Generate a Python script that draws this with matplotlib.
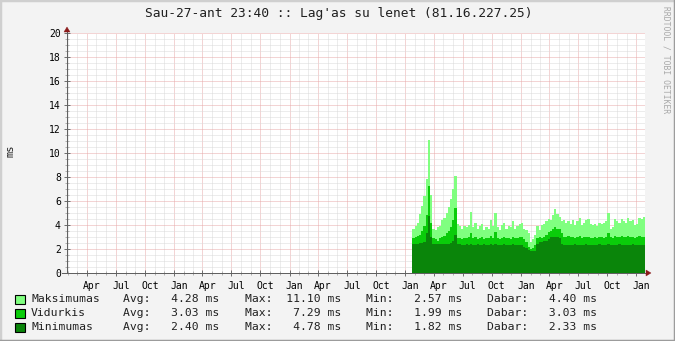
import numpy as np
import matplotlib
matplotlib.use("Agg")
import matplotlib.pyplot as plt
import matplotlib.dates as mdates
import matplotlib.ticker as mticker
from matplotlib.patches import Rectangle, Polygon
from matplotlib.lines import Line2D
from matplotlib.transforms import ScaledTranslation
import datetime as dt

# ---------------- data ----------------
title = "Sau-27-ant 23:40 :: Lag'as su lenet (81.16.227.25)"
y_label = "ms"
watermark = "RRDTOOL / TOBI OETIKER"
range_start = dt.datetime(2005, 1, 27, 23, 40)
range_end = dt.datetime(2010, 1, 27, 23, 40)
data_start = dt.datetime(2008, 1, 24)
step_days = 7

series_names = ["Maksimumas", "Vidurkis", "Minimumas"]
series_colors = ["#80FF80", "#0ACC0A", "#0A850A"]

max_vals = [3.7, 3.9, 4.2, 4.9, 5.6, 6.4, 7.8, 11.1, 6.5, 3.7,
            3.6, 3.8, 3.9, 4.4, 4.6, 5.0, 5.5, 6.2, 7.0, 8.05, 4.1,
            3.9, 3.7, 3.9, 3.8, 4.0, 5.1, 3.8, 4.2, 3.7, 3.9,
            4.1, 3.6, 3.8, 3.7, 4.4, 3.9, 5.0, 3.8, 3.6, 4.0,
            4.2, 3.7, 3.9, 3.8, 4.3, 3.7, 3.9, 4.1, 4.2, 3.7,
            3.6, 3.3, 2.6, 2.8, 3.2, 3.9, 3.6, 4.0, 4.1, 4.3,
            4.5, 4.4, 4.8, 5.3, 4.9, 4.7, 4.3, 4.4, 4.2, 4.3,
            4.1, 4.4, 4.0, 4.3, 4.6, 4.0, 4.2, 4.4, 4.5, 4.1,
            4.0, 4.1, 3.9, 4.2, 4.1, 4.2, 4.3, 5.0, 3.7, 3.8,
            4.5, 4.3, 4.2, 4.5, 4.3, 4.2, 4.6, 4.3, 4.4, 4.0,
            4.1, 4.6, 4.5, 4.7, 4.5]

avg_vals = [2.9, 3.0, 3.1, 3.2, 3.5, 3.9, 4.8, 7.29, 4.2, 2.9,
            2.8, 2.7, 2.9, 3.0, 3.1, 3.3, 3.5, 3.8, 4.4, 5.4, 2.9,
            2.9, 2.8, 2.9, 2.9, 3.0, 3.3, 2.9, 3.0, 2.8, 2.9,
            3.0, 2.8, 2.9, 2.9, 3.1, 2.9, 3.4, 2.9, 2.8, 2.9,
            3.0, 2.9, 2.9, 2.8, 3.0, 2.9, 2.9, 3.0, 3.0, 2.8,
            2.6, 2.2, 2.0, 2.1, 2.3, 2.9, 3.0, 2.9, 3.0, 3.2,
            3.4, 3.5, 3.7, 3.8, 3.7, 3.7, 3.3, 3.0, 3.0, 3.1,
            3.0, 3.0, 2.9, 3.0, 3.1, 2.9, 3.0, 3.0, 3.0, 2.9,
            2.9, 3.0, 2.9, 3.0, 3.0, 2.9, 3.0, 3.3, 3.0, 2.9,
            3.1, 3.0, 3.0, 3.1, 3.0, 3.0, 3.1, 3.0, 3.0, 2.9,
            3.0, 3.1, 3.0, 3.0, 3.0]

min_vals = [2.4, 2.4, 2.4, 2.5, 2.5, 2.6, 3.3, 4.78, 3.0, 2.4,
            2.4, 2.4, 2.4, 2.4, 2.4, 2.4, 2.4, 2.5, 2.7, 3.2, 2.4,
            2.4, 2.35, 2.35, 2.4, 2.35, 2.4, 2.35, 2.35, 2.4, 2.35,
            2.35, 2.4, 2.35, 2.35, 2.4, 2.35, 2.4, 2.35, 2.35, 2.35,
            2.4, 2.35, 2.35, 2.35, 2.4, 2.35, 2.35, 2.3, 2.3, 2.2,
            2.1, 1.9, 1.82, 1.85, 1.85, 2.4, 2.6, 2.6, 2.7, 2.7,
            2.8, 3.0, 3.0, 3.0, 3.0, 2.9, 2.4, 2.35, 2.35, 2.35,
            2.35, 2.35, 2.4, 2.35, 2.35, 2.35, 2.35, 2.4, 2.35, 2.35,
            2.35, 2.35, 2.35, 2.4, 2.35, 2.35, 2.35, 2.4, 2.35, 2.35,
            2.35, 2.35, 2.4, 2.35, 2.35, 2.35, 2.35, 2.35, 2.4, 2.35,
            2.35, 2.35, 2.35, 2.35, 2.33]

stat_avg = [4.28, 3.03, 2.40]
stat_max = [11.10, 7.29, 4.78]
stat_min = [2.57, 1.99, 1.82]
stat_cur = [4.40, 3.03, 2.33]

y_max = 20
y_major = 2
y_minor = 0.5

# ---------------- figure ----------------
W, H = 675, 341
MONO = "DejaVu Sans Mono"
plt.rcParams["font.family"] = MONO

fig = plt.figure(figsize=(W / 100, H / 100), dpi=100, facecolor="#F3F3F3")
L, R, T, B = 67, 645, 33, 273
ax = fig.add_axes([L / W, (H - B) / H, (R - L) / W, (B - T) / H])
ax.set_facecolor("white")

dates = [data_start + dt.timedelta(days=step_days * i) for i in range(len(max_vals))]
dnum = mdates.date2num(dates)

for vals, col in zip([max_vals, avg_vals, min_vals], series_colors):
    ax.fill_between(dnum, 0, vals, step="post", color=col, linewidth=0,
                    antialiased=False, zorder=2)

ax.set_xlim(mdates.date2num(range_start), mdates.date2num(range_end))
ax.set_ylim(0, y_max)

ax.xaxis.set_major_locator(mdates.MonthLocator(bymonth=[1, 4, 7, 10]))
ax.xaxis.set_major_formatter(mdates.DateFormatter("%b"))
ax.xaxis.set_minor_locator(mdates.MonthLocator())
ax.yaxis.set_major_locator(mticker.MultipleLocator(y_major))
ax.yaxis.set_minor_locator(mticker.MultipleLocator(y_minor))

px = 0.72
ax.set_axisbelow(True)
ax.grid(which="minor", color="#DADADA", linestyle=(0, (1, 1)), linewidth=px)
ax.grid(which="major", color="#E8AAAA", linestyle=(0, (1, 1)), linewidth=px)

for s in ax.spines.values():
    s.set_visible(False)

ax.tick_params(which="major", direction="inout", length=5, width=px,
               color="#707070", labelsize=7, pad=2)
ax.tick_params(which="minor", direction="inout", length=3, width=px,
               color="#B0B0B0")
ax.tick_params(axis="x", which="major", pad=3)

offset = ScaledTranslation(5 / 100, 0, fig.dpi_scale_trans)
for lab in ax.get_xticklabels():
    lab.set_transform(lab.get_transform() + offset)

# axis lines with arrows
axis_col = "#606060"
arrow_col = "#8B1A1A"
ax.add_line(Line2D([0, 0], [0, 1 + 4 / (B - T)], transform=ax.transAxes,
                   color=axis_col, lw=px, clip_on=False, zorder=5))
ax.add_line(Line2D([-5 / (R - L), 1 + 3 / (R - L)], [0, 0], transform=ax.transAxes,
                   color=axis_col, lw=px, clip_on=False, zorder=5))


def fp(xp, yp):
    return (xp / W, 1 - yp / H)


fig.patches.append(Polygon([fp(L - 3, T - 1), fp(L + 3, T - 1), fp(L, T - 6)],
                           closed=True, transform=fig.transFigure,
                           facecolor=arrow_col, edgecolor=arrow_col, lw=0.3))
fig.patches.append(Polygon([fp(R + 1, B - 3), fp(R + 1, B + 3), fp(R + 6, B)],
                           closed=True, transform=fig.transFigure,
                           facecolor=arrow_col, edgecolor=arrow_col, lw=0.3))

# title, y label, watermark
fig.text(339 / W, 1 - 13 / H, title, ha="center", va="center",
         fontsize=9.3, family=MONO, color="#202020")
fig.text(10 / W, 1 - 151 / H, y_label, ha="center", va="center",
         rotation=90, fontsize=7.5, family=MONO, color="#202020")
fig.text(666 / W, 1 - 60 / H, watermark, ha="center", va="center",
         rotation=270, fontsize=5.8, family=MONO, color="#A8A8A8")

# legend
row_y = [299, 313, 327]
for i, name in enumerate(series_names):
    yc = row_y[i]
    fig.patches.append(Rectangle(fp(15, yc + 4.5), 10 / W, 9 / H,
                                 transform=fig.transFigure,
                                 facecolor=series_colors[i], edgecolor="black",
                                 lw=0.8))
    kw = dict(va="center", ha="left", fontsize=8.2, family=MONO, color="#202020")
    fig.text(31 / W, 1 - yc / H, name, **kw)
    fig.text(123 / W, 1 - yc / H, "Avg:%7.2f ms" % stat_avg[i], **kw)
    fig.text(245 / W, 1 - yc / H, "Max:%7.2f ms" % stat_max[i], **kw)
    fig.text(366 / W, 1 - yc / H, "Min:%7.2f ms" % stat_min[i], **kw)
    fig.text(487 / W, 1 - yc / H, "Dabar:%7.2f ms" % stat_cur[i], **kw)

# 3D-ish frame
frame_light = "#CFCFCF"
frame_dark = "#9C9C9C"
fig.lines.append(Line2D([0, 0], [0, 1], transform=fig.transFigure, color=frame_light, lw=2.5))
fig.lines.append(Line2D([0, 1], [1, 1], transform=fig.transFigure, color=frame_light, lw=2.5))
fig.lines.append(Line2D([1, 1], [0, 1], transform=fig.transFigure, color=frame_dark, lw=2.5))
fig.lines.append(Line2D([0, 1], [0, 0], transform=fig.transFigure, color=frame_dark, lw=2.5))

fig.savefig("out.png", dpi=100, facecolor=fig.get_facecolor())
